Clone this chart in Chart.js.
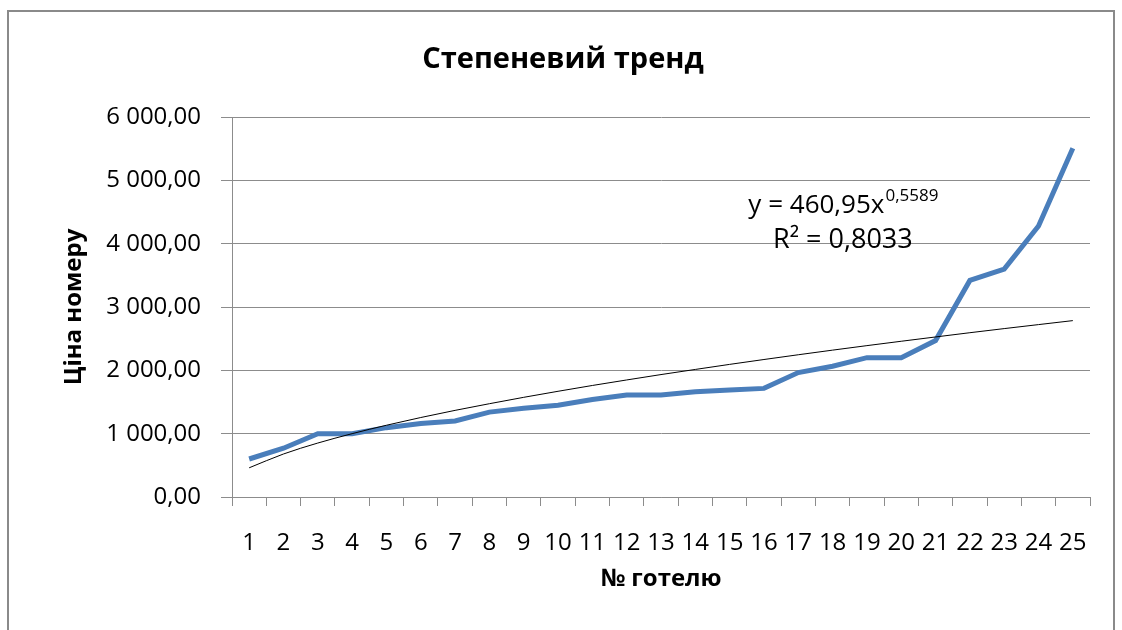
<!DOCTYPE html>
<html>
<head>
<meta charset="utf-8">
<script src="https://cdn.jsdelivr.net/npm/chart.js@4"></script>
<style>
  body { margin: 0; background: #fff; }
  #wrap { position: relative; width: 1122px; height: 630px; overflow: hidden; }
  #frame {
    position: absolute; left: 7px; top: 10px; width: 1108px; height: 640px;
    border: 2px solid #8a8a8a; box-sizing: border-box;
  }
  canvas { position: absolute; left: 0; top: 0; }
</style>
</head>
<body>
<div id="wrap">
  <div id="frame"></div>
  <canvas id="chart" width="1122" height="630"></canvas>
</div>
<script>
// Hotels 1..25
const hotels = ["1", "2", "3", "4", "5", "6", "7", "8", "9", "10", "11", "12", "13",
  "14", "15", "16", "17", "18", "19", "20", "21", "22", "23", "24", "25"];

// room prices
const prices = [600, 770, 1000, 1000, 1095, 1160, 1200, 1340, 1400, 1450, 1540, 1610, 1610,
  1660, 1690, 1715, 1965, 2065, 2200, 2200, 2470, 3420, 3600, 4280, 5505];

// power trendline values
const trend = [461, 679, 852, 1000, 1133, 1255, 1368, 1473, 1574, 1669, 1761, 1848, 1933,
  2014, 2094, 2171, 2246, 2319, 2390, 2459, 2527, 2594, 2659, 2722, 2785];

const yTicks = [0, 1000, 2000, 3000, 4000, 5000, 6000];
const eqText = "y = 460,95x";
const eqPower = "0,5589";
const r2Text = "R² = 0,8033";

const FONT = "'Open Sans', sans-serif";
const gridGray = "#8c8c8c";

function fmt(v) {
  // 6 000,00 style
  const s = Math.round(v).toString().replace(/\B(?=(\d{3})+(?!\d))/g, " ");
  return s + ",00";
}

// title + trendline equation
const annotations = {
  id: "annotations",
  afterDraw(chart) {
    const ctx = chart.ctx;
    const x = chart.scales.x;
    const y = chart.scales.y;
    ctx.save();
    ctx.fillStyle = "#000";
    ctx.textBaseline = "middle";
    ctx.textAlign = "center";
    ctx.font = "bold 29px " + FONT;
    ctx.fillText("Степеневий тренд", 563, 60);

    // equation label, anchored in data space
    const cx = x.getPixelForValue(17.3);
    const y1 = y.getPixelForValue(4600);
    const y2 = y.getPixelForValue(4060);
    ctx.font = "26px " + FONT;
    const w1 = ctx.measureText(eqText).width;
    ctx.font = "17px " + FONT;
    const w2 = ctx.measureText(eqPower).width;
    const left = cx - (w1 + w2) / 2;
    ctx.textAlign = "left";
    ctx.font = "26px " + FONT;
    ctx.fillText(eqText, left, y1);
    ctx.font = "17px " + FONT;
    ctx.fillText(eqPower, left + w1 + 1, y1 - 10);
    ctx.textAlign = "center";
    ctx.font = "27px " + FONT;
    ctx.fillText(r2Text, cx, y2);
    ctx.restore();
  }
};

const ctx = document.getElementById("chart").getContext("2d");
new Chart(ctx, {
  type: "line",
  data: {
    labels: hotels,
    datasets: [
      {
        label: "Ціна",
        data: prices,
        borderColor: "#4a7ebb",
        borderWidth: 5,
        pointRadius: 0,
        tension: 0,
        order: 2
      },
      {
        label: "Тренд",
        data: trend,
        borderColor: "#000",
        borderWidth: 1,
        pointRadius: 0,
        cubicInterpolationMode: "monotone",
        order: 1
      }
    ]
  },
  options: {
    responsive: false,
    animation: false,
    layout: { padding: { top: 117, right: 32, left: 0, bottom: 0 } },
    plugins: {
      legend: { display: false },
      tooltip: { enabled: false }
    },
    scales: {
      x: {
        offset: true,
        afterFit: (scale) => { scale.height = 133; },
        grid: {
          offset: true,
          drawOnChartArea: false,
          drawTicks: true,
          tickLength: 9,
          color: gridGray
        },
        border: { display: true, color: gridGray, width: 1 },
        ticks: {
          autoSkip: false,
          maxRotation: 0,
          minRotation: 0,
          color: "#000",
          padding: 23,
          font: { family: FONT, size: 24 }
        },
        title: {
          display: true,
          text: "№ готелю",
          color: "#000",
          padding: { top: 0, bottom: 36 },
          font: { family: FONT, size: 24, weight: "bold" }
        }
      },
      y: {
        min: 0,
        max: 6000,
        afterFit: (scale) => { scale.width = 232; },
        afterBuildTicks: (scale) => {
          scale.ticks = yTicks.map((v) => ({ value: v }));
        },
        grid: {
          color: gridGray,
          tickLength: 11,
          lineWidth: 1
        },
        border: { display: true, color: gridGray, width: 1 },
        ticks: {
          color: "#000",
          padding: 20,
          font: { family: FONT, size: 24 },
          callback: (v) => fmt(v)
        },
        title: {
          display: true,
          text: "Ціна номеру",
          color: "#000",
          padding: { top: 60, bottom: 0 },
          font: { family: FONT, size: 24, weight: "bold" }
        }
      }
    }
  },
  plugins: [annotations]
});
</script>
</body>
</html>
